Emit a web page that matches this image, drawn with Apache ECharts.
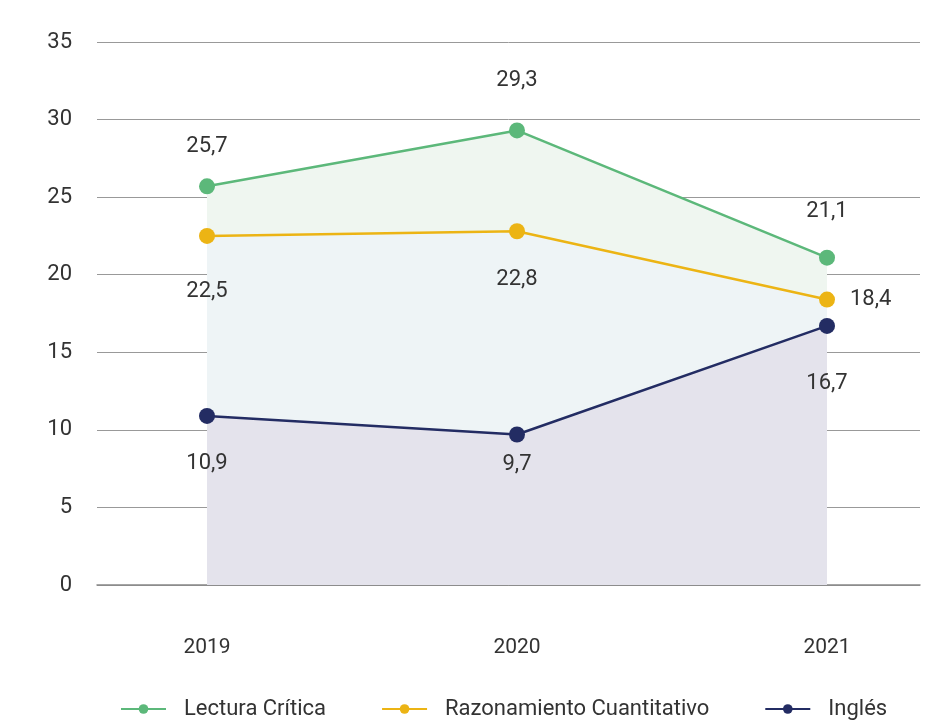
<!DOCTYPE html>
<html><head><meta charset="utf-8">
<script src="https://cdn.jsdelivr.net/npm/echarts@6/dist/echarts.min.js"></script>
<style>html,body{margin:0;padding:0;background:#fff}#c{width:925px;height:727px}</style>
</head><body><div id="c"></div>
<script>
const years = [2019, 2020, 2021];
const lectura = [25.7, 29.3, 21.1];
const razonamiento = [22.5, 22.8, 18.4];
const ingles = [10.9, 9.7, 16.7];
const seriesNames = ['Lectura Crítica', 'Razonamiento Cuantitativo', 'Inglés'];
const yTicks = [0, 5, 10, 15, 20, 25, 30, 35];

// label placement per point (style only)
const labelStyle = {
  lectura: [{position:'top', offset:[0,-16]}, {position:'top', offset:[0,-26]}, {position:'top', offset:[0,-22]}],
  razonamiento: [{position:'bottom', offset:[0,32]}, {position:'bottom', offset:[0,24]}, {position:'right', offset:[10,0]}],
  ingles: [{position:'bottom', offset:[0,24]}, {position:'bottom', offset:[0,6]}, {position:'bottom', offset:[0,34]}]
};
const fmt = v => String(v).replace('.', ',');
function build(vals, styles) {
  return vals.map((v, i) => ({value: [years[i], v], label: styles[i]}));
}
const chart = echarts.init(document.getElementById('c'));
const FONT = 'Roboto';
const labelFont = {show: true, fontSize: 22, color: '#333', fontFamily: FONT, formatter: p => fmt(p.value[1])};
function mk(name, vals, styles, color, area) {
  return {
    name, type: 'line', data: build(vals, styles),
    symbol: 'circle', symbolSize: 16,
    lineStyle: {color, width: 2.5},
    itemStyle: {color},
    areaStyle: {color: area, opacity: 1},
    label: labelFont,
    emphasis: {disabled: true},
    z: 2
  };
}
chart.setOption({
  animation: false,
  grid: {left: 97, right: 5, top: 42, bottom: 142},
  legend: {
    bottom: 2, left: 115,
    itemWidth: 45, itemHeight: 12, itemGap: 55,
    textStyle: {fontSize: 22, color: '#333', fontFamily: FONT, padding:[0,0,0,13]},
    data: seriesNames
  },
  xAxis: {
    type: 'value', min: 2019 - 110/310, max: 2021 + 93/310,
    axisLine: {show: true, lineStyle: {color: '#888', width: 1.5}},
    axisTick: {show: false},
    splitLine: {show: false},
    axisLabel: {customValues: years, margin: 52, fontSize: 21, color: '#333', fontFamily: FONT, formatter: v => String(v)}
  },
  yAxis: {
    type: 'value', min: yTicks[0], max: yTicks[yTicks.length-1], interval: 5,
    axisLine: {show: false}, axisTick: {show: false},
    splitLine: {lineStyle: {color: '#999', width: 1}},
    axisLabel: {margin: 25, fontSize: 22, color: '#333', fontFamily: FONT}
  },
  series: [
    mk(seriesNames[0], lectura, labelStyle.lectura, '#5cb87a', '#eff6f0'),
    mk(seriesNames[1], razonamiento, labelStyle.razonamiento, '#ecb414', '#eef4f6'),
    mk(seriesNames[2], ingles, labelStyle.ingles, '#232c63', '#e4e3ec')
  ]
});
</script></body></html>
